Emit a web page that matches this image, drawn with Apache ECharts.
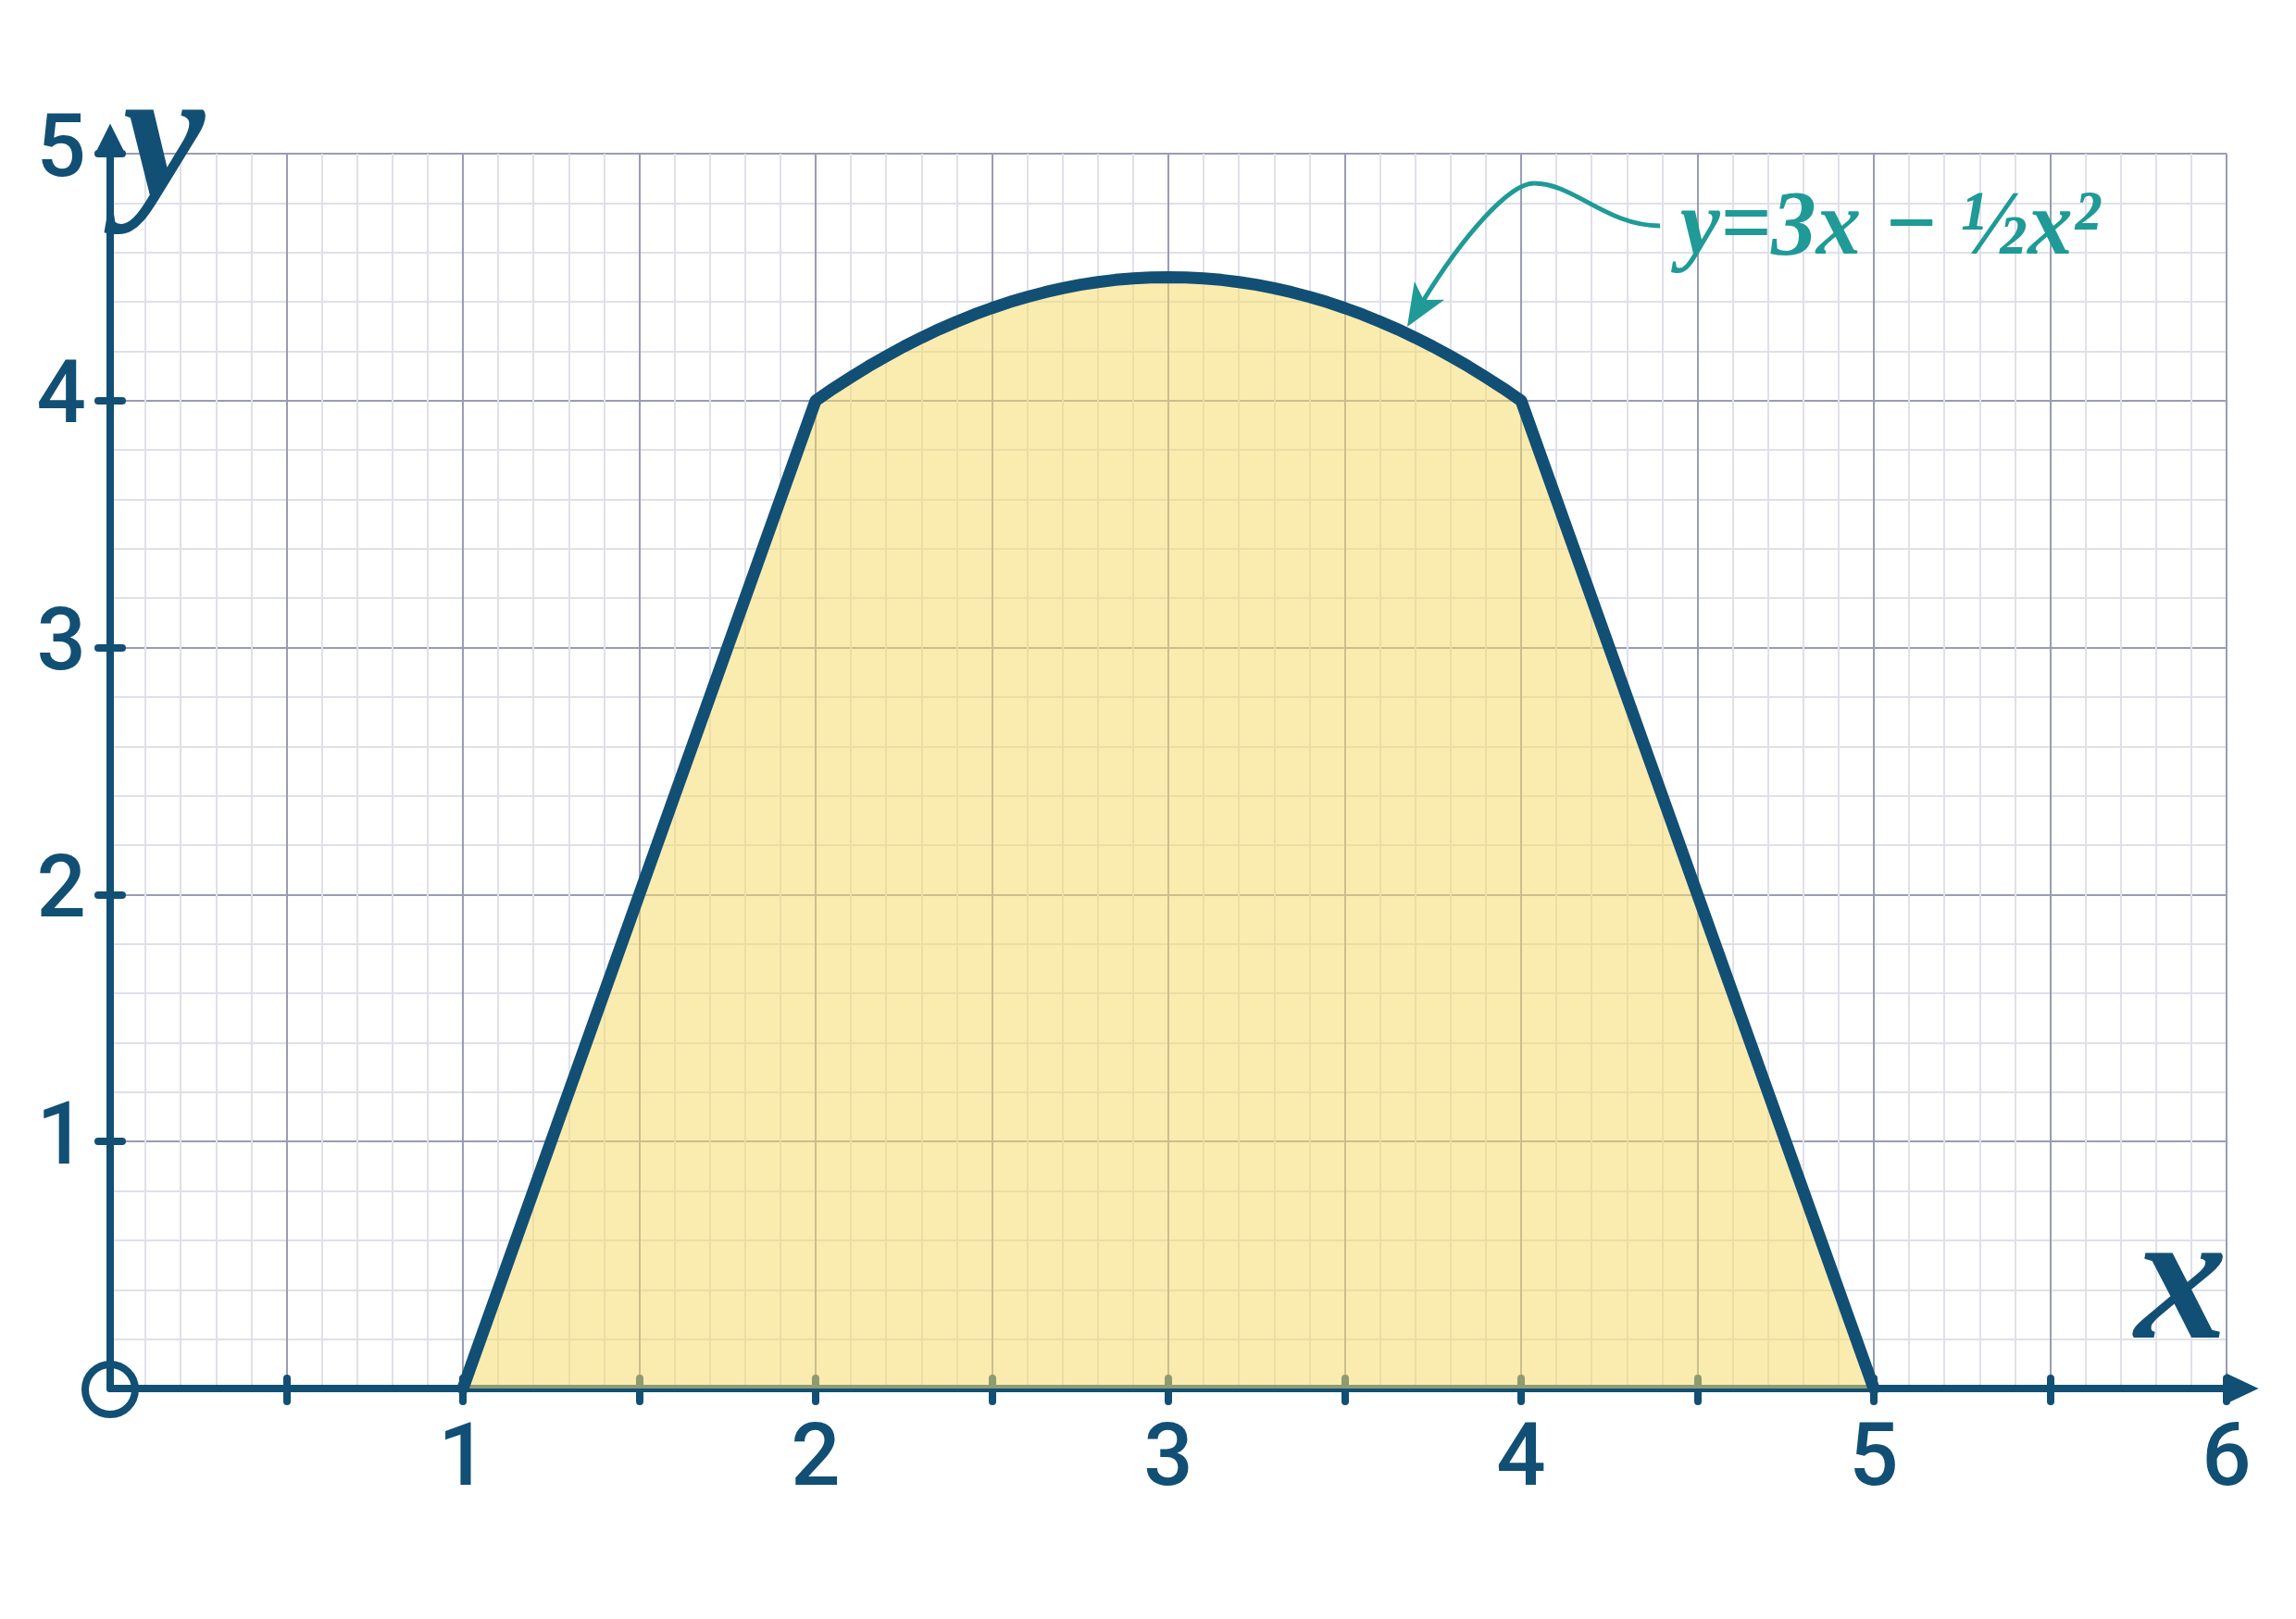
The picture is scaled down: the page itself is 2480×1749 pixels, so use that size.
<!DOCTYPE html>
<html><head><meta charset="utf-8">
<script src="https://cdn.jsdelivr.net/npm/echarts@6/dist/echarts.min.js"></script>
<style>html,body{margin:0;padding:0;background:#fff}#c{width:2480px;height:1749px}</style>
</head><body><div id="c"></div>
<script>
// ---- data ----
const xTickValues = [0.5, 1, 1.5, 2, 2.5, 3, 3.5, 4, 4.5, 5, 5.5, 6];
const xLabelValues = [1, 2, 3, 4, 5, 6];
const xTickLabels = ['1', '2', '3', '4', '5', '6'];
const yTickValues = [1, 2, 3, 4, 5];
const yTickLabels = ['1', '2', '3', '4', '5'];
const curveX = [1.0, 1.1, 1.2, 1.3, 1.4, 1.5, 1.6, 1.7, 1.8, 1.9, 2.0,
  2.05, 2.1, 2.15, 2.2, 2.25, 2.3, 2.35, 2.4, 2.45, 2.5, 2.55, 2.6, 2.65, 2.7, 2.75, 2.8, 2.85, 2.9, 2.95,
  3.0, 3.05, 3.1, 3.15, 3.2, 3.25, 3.3, 3.35, 3.4, 3.45, 3.5, 3.55, 3.6, 3.65, 3.7, 3.75, 3.8, 3.85, 3.9, 3.95,
  4.0, 4.1, 4.2, 4.3, 4.4, 4.5, 4.6, 4.7, 4.8, 4.9, 5.0];
const curveY = [0, 0.4, 0.8, 1.2, 1.6, 2.0, 2.4, 2.8, 3.2, 3.6, 4.0,
  4.049, 4.095, 4.139, 4.18, 4.219, 4.255, 4.289, 4.32, 4.349, 4.375, 4.399, 4.42, 4.439, 4.455, 4.469, 4.48, 4.489, 4.495, 4.499,
  4.5, 4.499, 4.495, 4.489, 4.48, 4.469, 4.455, 4.439, 4.42, 4.399, 4.375, 4.349, 4.32, 4.289, 4.255, 4.219, 4.18, 4.139, 4.095, 4.049,
  4.0, 3.6, 3.2, 2.8, 2.4, 2.0, 1.6, 1.2, 0.8, 0.4, 0];
const formulaText = 'y=3x \u2212 \u00BDx\u00B2';
const xAxisName = 'x';
const yAxisName = 'y';

// ---- styles ----
const DARK = '#124F74', TEAL = '#1F9A97', MAJ = '#9A9CB3', MIN = '#E0E0E9';
const tickFont = "Roboto";
const serif = "Liberation Serif";

const chart = echarts.init(document.getElementById('c'), null, { renderer: 'canvas' });

const tickStyle = { color: DARK, width: 8, cap: 'round' };

const option = {
  animation: false,
  backgroundColor: '#ffffff',
  grid: { left: 119, right: 75, top: 166, bottom: 249, containLabel: false },
  xAxis: [
    {
      type: 'value', min: 0, max: 6, interval: 0.5, position: 'bottom',
      axisLine: { show: true, onZero: false, symbol: ['none', 'triangle'], symbolSize: [33, 35], symbolOffset: [0, 17],
        lineStyle: { color: DARK, width: 8 } },
      axisTick: { show: true, length: 14, customValues: xTickValues, lineStyle: tickStyle },
      axisLabel: {
        show: true, margin: 33, color: DARK, fontFamily: tickFont, fontWeight: 500, fontSize: 94,
        customValues: xLabelValues,
        formatter: v => xTickLabels[xLabelValues.indexOf(v)]
      },
      splitLine: { show: true, lineStyle: { color: MAJ, width: 2 } },
      minorTick: { show: false, splitNumber: 5 },
      minorSplitLine: { show: true, lineStyle: { color: MIN, width: 2 } }
    },
    { type: 'value', min: 0, max: 6, interval: 0.5, position: 'bottom', offset: 0,
      axisLine: { show: false }, axisLabel: { show: false }, splitLine: { show: false },
      axisTick: { show: true, inside: true, length: 11, customValues: xTickValues, lineStyle: tickStyle } }
  ],
  yAxis: [
    {
      type: 'value', min: 0, max: 5, interval: 1, position: 'left',
      axisLine: { show: true, onZero: false, symbol: ['none', 'triangle'], symbolSize: [33, 33], symbolOffset: [0, 16],
        lineStyle: { color: DARK, width: 8 } },
      axisTick: { show: true, length: 13, customValues: yTickValues, lineStyle: tickStyle },
      axisLabel: {
        show: true, margin: 26, color: DARK, fontFamily: tickFont, fontWeight: 500, fontSize: 94, padding: [40, 0, 0, 0],
        customValues: yTickValues,
        formatter: v => yTickLabels[yTickValues.indexOf(v)]
      },
      splitLine: { show: true, lineStyle: { color: MAJ, width: 2 } },
      minorTick: { show: false, splitNumber: 5 },
      minorSplitLine: { show: true, lineStyle: { color: MIN, width: 2 } }
    },
    { type: 'value', min: 0, max: 5, interval: 1, position: 'left', offset: 0,
      axisLine: { show: false }, axisLabel: { show: false }, splitLine: { show: false },
      axisTick: { show: true, inside: true, length: 13, customValues: yTickValues, lineStyle: tickStyle } }
  ],
  series: [{
    type: 'line', xAxisIndex: 0, yAxisIndex: 0,
    data: curveX.map((x, i) => [x, curveY[i]]),
    symbol: 'none', smooth: false, clip: false, z: 3,
    lineStyle: { color: DARK, width: 13, join: 'round', cap: 'round' },
    areaStyle: { color: 'rgb(246,218,110)', opacity: 0.55 }
  }]
};
chart.setOption(option);

// ---- annotations positioned from data coordinates ----
const P = p => chart.convertToPixel({ xAxisIndex: 0, yAxisIndex: 0 }, p);
const o = P([0, 0]);
// callout: two cubic segments (data coords) from label to arrow tip
const E = P([4.394, 4.708]), C1 = P([4.241, 4.708]), C2 = P([4.150, 4.880]), K = P([4.037, 4.880]);
const C3 = P([3.966, 4.880]), C4 = P([3.835, 4.666]), T = P([3.677, 4.299]);
let ux = C4[0] - T[0], uy = C4[1] - T[1];
const L = Math.hypot(ux, uy); ux /= L; uy /= L;
const along = (d, s) => [T[0] + ux * d - uy * s, T[1] + uy * d + ux * s];
const headLen = 46, headHalf = 19, notch = 34;
const N = along(notch - 2, 0);

const fA = P([4.451, 4.693]);
const xN = P([5.871, 0.398]);
const yN = P([0.152, 5.027]);

const txt = (pos, text, size, color, align, sx) => ({
  type: 'text', x: pos[0], y: pos[1], scaleX: sx || 1, z: 100,
  style: { text: text, x: 0, y: 0, fill: color, fontFamily: serif, fontStyle: 'italic', fontWeight: 'bold', fontSize: size,
    align: align, verticalAlign: 'middle', textAlign: align, textVerticalAlign: 'middle' }
});

chart.setOption({
  graphic: [
    { type: 'circle', shape: { cx: o[0], cy: o[1] + 1, r: 27 }, style: { fill: null, stroke: DARK, lineWidth: 8 }, z: 100 },
    { type: 'bezierCurve', shape: { x1: E[0], y1: E[1], cpx1: C1[0], cpy1: C1[1], cpx2: C2[0], cpy2: C2[1], x2: K[0], y2: K[1] },
      style: { stroke: TEAL, lineWidth: 5, fill: null }, z: 100 },
    { type: 'bezierCurve', shape: { x1: K[0], y1: K[1], cpx1: C3[0], cpy1: C3[1], cpx2: C4[0], cpy2: C4[1], x2: N[0], y2: N[1] },
      style: { stroke: TEAL, lineWidth: 5, fill: null }, z: 100 },
    { type: 'polygon', shape: { points: [T, along(headLen, -headHalf), along(notch, 0), along(headLen, headHalf)] },
      style: { fill: TEAL, stroke: null }, z: 101 },
    txt(fA, formulaText, 100, TEAL, 'left', 0.97),
    txt(xN, xAxisName, 200, DARK, 'center'),
    txt(yN, yAxisName, 200, DARK, 'center')
  ]
});
</script></body></html>
